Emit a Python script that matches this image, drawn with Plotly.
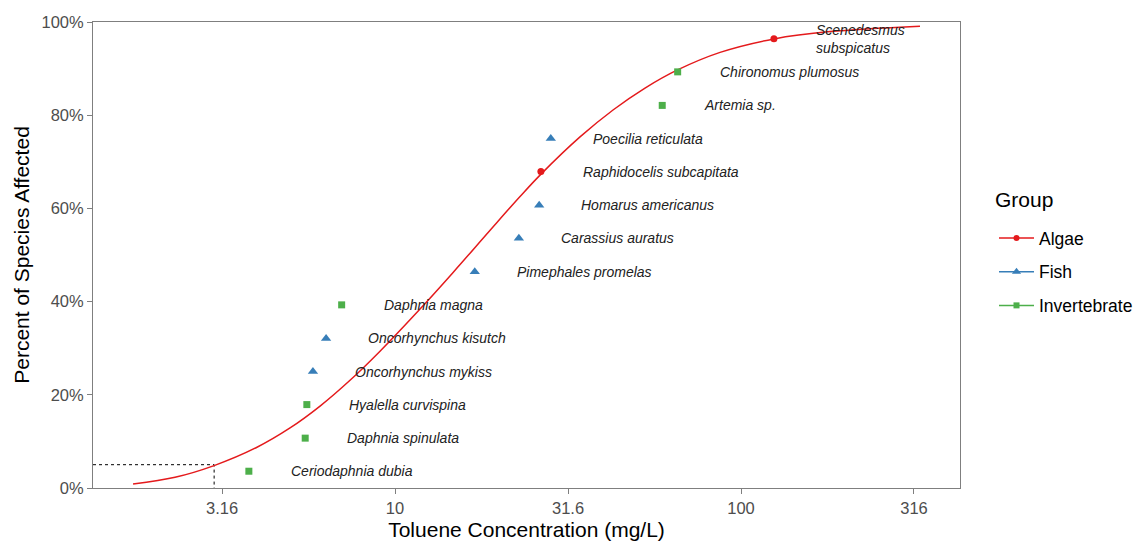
import plotly.graph_objects as go
import math

# ---- data ----
species = [
    "Ceriodaphnia dubia", "Daphnia spinulata", "Hyalella curvispina",
    "Oncorhynchus mykiss", "Oncorhynchus kisutch", "Daphnia magna",
    "Pimephales promelas", "Carassius auratus", "Homarus americanus",
    "Raphidocelis subcapitata", "Poecilia reticulata", "Artemia sp.",
    "Chironomus plumosus", "Scenedesmus subspicatus",
]
groups = [
    "Invertebrate", "Invertebrate", "Invertebrate",
    "Fish", "Fish", "Invertebrate",
    "Fish", "Fish", "Fish",
    "Algae", "Fish", "Invertebrate",
    "Invertebrate", "Algae",
]
conc = [3.78, 5.50, 5.56, 5.79, 6.32, 7.01, 17.0, 22.8, 26.1, 26.4, 28.2, 59.2, 65.6, 124.5]
frac = [0.036, 0.107, 0.179, 0.250, 0.321, 0.393, 0.464, 0.536, 0.607, 0.679, 0.750, 0.821, 0.893, 0.964]

# fitted curve
curve_conc = [1.749, 2.313, 2.999, 3.966, 4.972, 6.071, 7.411, 9.049, 11.81, 14.72, 18.83,
              22.98, 26.42, 34.25, 42.67, 52.79, 65.31, 86.99, 124.6, 180.8, 329.1]
curve_frac = [0.0086, 0.0230, 0.0481, 0.0864, 0.1288, 0.1757, 0.2311, 0.2936, 0.3841, 0.4627, 0.5532,
              0.6255, 0.6736, 0.7534, 0.8112, 0.8582, 0.8966, 0.9348, 0.9637, 0.9794, 0.9910]

hc5_conc = 3.0
hc5_frac = 0.05

x_tick_vals = [3.1623, 10, 31.623, 100, 316.23]
x_tick_text = ["3.16", "10", "31.6", "100", "316"]
y_tick_vals = [0, 0.2, 0.4, 0.6, 0.8, 1.0]

group_order = ["Algae", "Fish", "Invertebrate"]
group_colors = {"Algae": "#E41A1C", "Fish": "#377EB8", "Invertebrate": "#4DAF4A"}
group_symbols = {"Algae": "circle", "Fish": "triangle-up", "Invertebrate": "square"}
group_sizes = {"Algae": 7, "Fish": 9, "Invertebrate": 7}

FONT = "Liberation Sans, Arial, Helvetica, sans-serif"
x_range = [0.127, 2.633]

fig = go.Figure()

# HC5 dotted guide
fig.add_trace(go.Scatter(
    x=[10 ** x_range[0], hc5_conc, hc5_conc], y=[hc5_frac, hc5_frac, 0],
    mode="lines", line=dict(color="black", width=1, dash="dot"),
    showlegend=False, hoverinfo="skip"))

# fitted curve
fig.add_trace(go.Scatter(
    x=curve_conc, y=curve_frac, mode="lines",
    line=dict(color="#E41A1C", width=1.5, shape="spline", smoothing=1.0),
    showlegend=False, hoverinfo="skip"))

# points by group
for g in group_order:
    xs = [c for c, gg in zip(conc, groups) if gg == g]
    ys = [f for f, gg in zip(frac, groups) if gg == g]
    fig.add_trace(go.Scatter(
        x=xs, y=ys, mode="markers",
        marker=dict(color=group_colors[g], symbol=group_symbols[g], size=group_sizes[g]),
        showlegend=False, name=g))
    # legend entry (line + marker)
    fig.add_trace(go.Scatter(
        x=[None], y=[None], mode="lines+markers", name=g, legendgroup=g,
        line=dict(color=group_colors[g], width=1.5),
        marker=dict(color=group_colors[g], symbol=group_symbols[g], size=group_sizes[g] - 1),
        showlegend=True))

# species labels
for s, c, f in zip(species, conc, frac):
    txt = "<i>" + s.replace("Scenedesmus ", "Scenedesmus<br>") + "</i>"
    fig.add_annotation(
        x=math.log10(c), y=f, text=txt, showarrow=False,
        xanchor="left", yanchor="middle", xshift=40, align="left",
        font=dict(family=FONT, size=14, color="#222222"))

# legend title as text
fig.add_annotation(
    xref="paper", yref="paper", x=(993 - 93) / 867, y=(488 - 200) / 466,
    text="Group", showarrow=False, xanchor="left", yanchor="middle",
    font=dict(family=FONT, size=21, color="black"))

fig.update_layout(
    width=1134, height=541,
    margin=dict(l=93, r=174, t=22, b=53, autoexpand=False),
    paper_bgcolor="white", plot_bgcolor="white",
    font=dict(family=FONT, color="black"),
    legend=dict(
        font=dict(size=17.5, color="black"),
        xref="container", yref="container",
        x=994 / 1134, xanchor="left", y=1 - 220 / 541, yanchor="top",
        tracegroupgap=8, itemwidth=35, bgcolor="rgba(0,0,0,0)",
    ),
    xaxis=dict(
        type="log", range=x_range, automargin=False,
        tickvals=x_tick_vals, ticktext=x_tick_text,
        showgrid=False, zeroline=False,
        showline=True, linecolor="#7f7f7f", linewidth=1, mirror=True,
        ticks="outside", ticklen=5, tickcolor="#7f7f7f",
        tickfont=dict(size=16.5, color="#4d4d4d"),
        title=dict(text="Toluene Concentration (mg/L)", font=dict(size=21, color="black"), standoff=6),
    ),
    yaxis=dict(
        range=[0, 1], tickvals=y_tick_vals, tickformat=".0%", automargin=False,
        showgrid=False, zeroline=False,
        showline=True, linecolor="#7f7f7f", linewidth=1, mirror=True,
        ticks="outside", ticklen=5, tickcolor="#7f7f7f",
        tickfont=dict(size=16.5, color="#4d4d4d"),
        title=dict(text="Percent of Species Affected", font=dict(size=21, color="black"), standoff=6),
    ),
)

fig.write_html("out.html")
